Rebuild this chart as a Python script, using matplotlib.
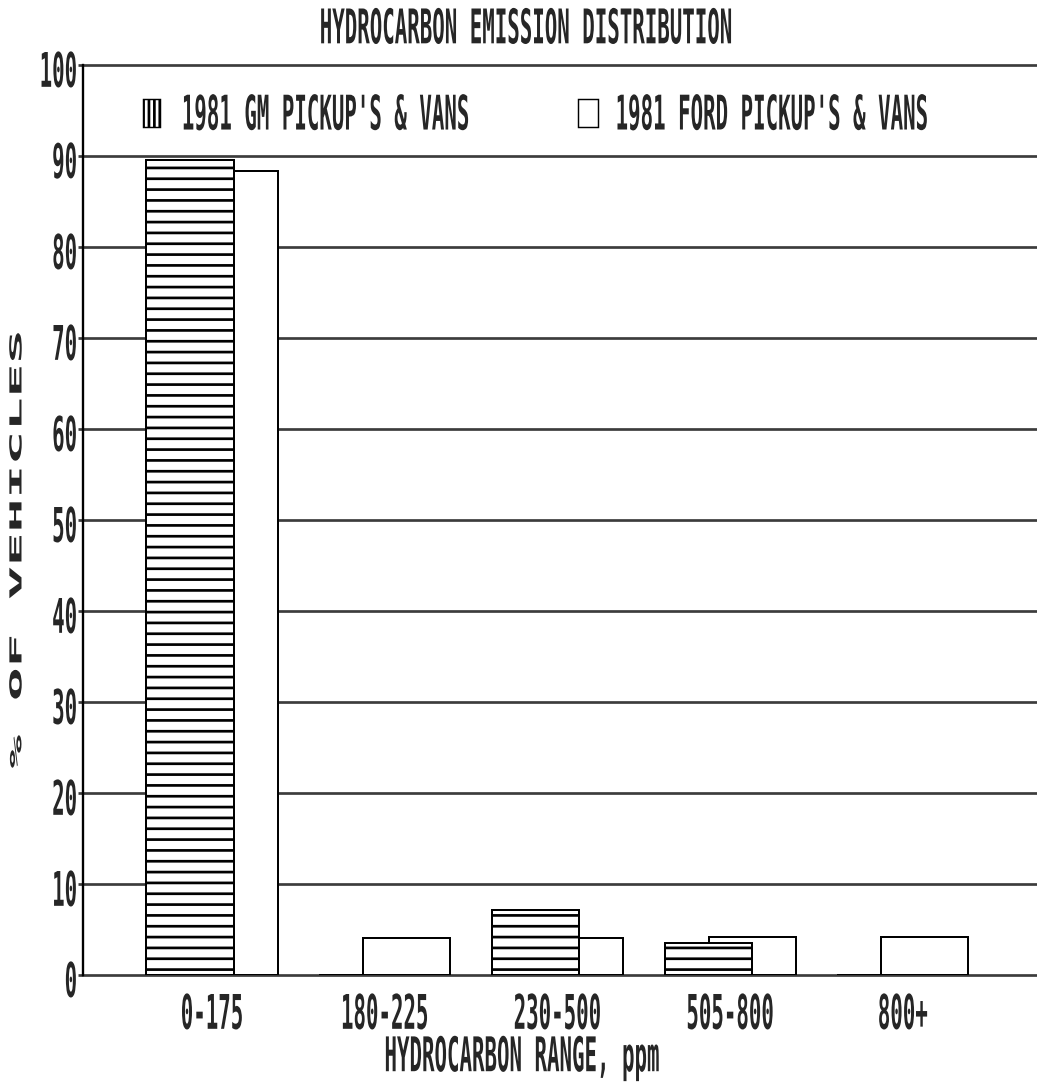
import numpy as np
import matplotlib
matplotlib.use("Agg")
import matplotlib.pyplot as plt
from matplotlib.patches import Patch
from matplotlib.patheffects import AbstractPathEffect
from matplotlib.transforms import Affine2D

# ---- data -------------------------------------------------------------
categories = ["0-175", "180-225", "230-500", "505-800", "800+"]
gm_pct = [89.6, 0.0, 7.1, 3.5, 0.0]
ford_pct = [88.4, 4.1, 4.1, 4.2, 4.2]
y_ticks = [0, 10, 20, 30, 40, 50, 60, 70, 80, 90, 100]
y_tick_labels = ["0", "10", "20", "30", "40", "50", "60", "70", "80", "90", "100"]
gm_label = "1981 GM PICKUP'S & VANS"
ford_label = "1981 FORD PICKUP'S & VANS"
title = "HYDROCARBON EMISSION DISTRIBUTION"
x_title = "HYDROCARBON RANGE, ppm"
y_title = "% OF VEHICLES"


class Stretch(AbstractPathEffect):
    """Scale glyph outlines about their own centre (tall, narrow plotter lettering)."""

    def __init__(self, sx=1.0, sy=1.0, dx=0.0, dy=0.0):
        super().__init__()
        self._sx, self._sy, self._dx, self._dy = sx, sy, dx, dy

    def draw_path(self, renderer, gc, tpath, affine, rgbFace=None):
        bb = tpath.get_extents(affine)
        cx, cy = (bb.x0 + bb.x1) / 2, (bb.y0 + bb.y1) / 2
        t = affine + Affine2D().translate(-cx, -cy).scale(self._sx, self._sy) \
            .translate(cx + self._dx, cy + self._dy)
        renderer.draw_path(gc, tpath, t, rgbFace)


W, H, DPI = 1037, 1085, 65
INK = "#262626"
GRID = "#3c3c3c"
FS = 23
TALL = 2.3

plt.rcParams["font.family"] = ["DejaVu Sans Mono", "DejaVu Sans"]
plt.rcParams["font.weight"] = "bold"
plt.rcParams["axes.labelweight"] = "bold"
plt.rcParams["text.color"] = INK
plt.rcParams["axes.labelcolor"] = INK
plt.rcParams["hatch.linewidth"] = 3.0
plt.rcParams["hatch.color"] = "black"

fig = plt.figure(figsize=(W / DPI, H / DPI), dpi=DPI)
fig.patch.set_facecolor("white")
ax = fig.add_axes([83 / W, 1 - 975 / H, (W - 83) / W, (975 - 65) / H])

x = np.arange(len(categories))
bar_w = 0.504
off = 0.1275
ax.bar(x + off, ford_pct, bar_w, facecolor="white", edgecolor="black",
       linewidth=2.2, zorder=2)
ax.bar(x - off, gm_pct, bar_w, facecolor="white", edgecolor="black",
       hatch="-", linewidth=2.2, zorder=3)

ax.set_xlim(-0.747, 4.777)
ax.set_ylim(0, 100)
ax.set_axisbelow(True)
ax.set_yticks(y_ticks, labels=y_tick_labels)
ax.set_xticks(x, labels=categories)
ax.grid(axis="y", color=GRID, linewidth=3.0)
ax.grid(axis="x", visible=False)
for gl in ax.get_ygridlines():
    gl.set_clip_on(False)

ax.tick_params(axis="y", length=6, width=3, color=GRID, pad=0.5,
               labelsize=FS, labelcolor=INK)
ax.tick_params(axis="x", length=0, pad=31, labelsize=FS, labelcolor=INK)
for lbl in ax.get_yticklabels():
    lbl.set_path_effects([Stretch(sy=TALL, dy=-4)])
for lbl in ax.get_xticklabels():
    lbl.set_path_effects([Stretch(sy=TALL)])

for side in ("top", "right", "bottom"):
    ax.spines[side].set_visible(False)
ax.spines["left"].set_color("black")
ax.spines["left"].set_linewidth(2.6)

ax.set_xlabel(x_title, fontsize=FS, fontweight="bold", va="center",
              path_effects=[Stretch(sy=TALL)])
ax.xaxis.set_label_coords((522 - 83) / (W - 83), -(1058 - 975) / (975 - 65))
ax.set_ylabel(y_title, fontsize=FS, fontweight="bold", va="center", ha="center",
              path_effects=[Stretch(sx=0.8, sy=2.7)])
ax.yaxis.set_label_coords((17 - 83) / (W - 83), (975 - 550) / (975 - 65))

fig.text(526 / W, 1 - 27.5 / H, title, ha="center", va="center",
         fontsize=FS, path_effects=[Stretch(sy=TALL)])

# legend in the band between 90 and 100
gm_handle = Patch(facecolor="white", edgecolor="black", hatch="||",
                  linewidth=1.6, label=gm_label)
ford_handle = Patch(facecolor="white", edgecolor="black", linewidth=1.6,
                    label=ford_label)
if hasattr(gm_handle, "set_hatch_linewidth"):
    gm_handle.set_hatch_linewidth(1.8)

leg_y = 1 - 113 / H
leg1 = ax.legend(handles=[gm_handle], loc="center left",
                 bbox_to_anchor=(143 / W, leg_y), bbox_transform=fig.transFigure,
                 frameon=False, borderpad=0, borderaxespad=0, fontsize=FS,
                 handlelength=0.82, handleheight=1.63, handletextpad=1.05)
ax.add_artist(leg1)
leg2 = ax.legend(handles=[ford_handle], loc="center left",
                 bbox_to_anchor=(578 / W, leg_y), bbox_transform=fig.transFigure,
                 frameon=False, borderpad=0, borderaxespad=0, fontsize=FS,
                 handlelength=0.96, handleheight=1.68, handletextpad=0.85)
for lg in (leg1, leg2):
    for t in lg.get_texts():
        t.set_path_effects([Stretch(sy=TALL)])

fig.savefig("out.png", dpi=DPI, facecolor="white")
